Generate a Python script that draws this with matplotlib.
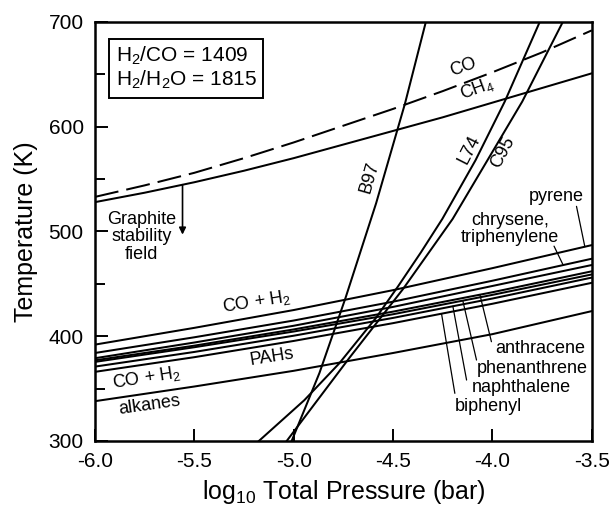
# -*- coding: UTF-8 -*-
# Graphite / PAH / alkane stability diagram (T vs log10 P)
import numpy as np
import matplotlib
matplotlib.use('Agg')
import matplotlib.pyplot as plt
from matplotlib.ticker import MultipleLocator, FormatStrFormatter

plt.rcParams['font.family'] = ['Liberation Sans', 'DejaVu Sans']
plt.rcParams['mathtext.fontset'] = 'custom'
plt.rcParams['mathtext.rm'] = 'Liberation Sans'
plt.rcParams['mathtext.default'] = 'regular'
plt.rcParams['axes.unicode_minus'] = False

# ---- data ----
# upper boundaries, T (K) at these log10 P values
P_fine = [-6.0, -5.75, -5.5, -5.25, -5.0, -4.75, -4.5, -4.25, -4.0, -3.75, -3.5]
co_ch4 = [533, 544, 556, 570, 585, 601, 617, 634, 652, 671, 692]   # dashed
graphite = [528, 537, 547, 558, 570, 583, 596, 609, 623, 637, 651]

# PAH / alkane boundaries
P_grid = [-6.0, -5.5, -5.0, -4.5, -4.0, -3.5]
pyrene = [392, 408, 425, 444, 465, 487]
chrysene = [384, 399, 415, 433, 453, 474]
triphenylene = [379, 394, 410, 428, 448, 468]
anthracene = [377, 391, 406.5, 423.5, 442, 462]
phenanthrene = [375.5, 389.5, 404.5, 421, 439.5, 459]
naphthalene = [371, 385, 400.5, 417.5, 436, 456]
biphenyl = [366, 380, 395.5, 412.5, 431, 451]
alkanes = [338, 352, 367, 384, 402, 424]

# steep curves (P, T pairs)
b97_P = [-5.01, -4.87, -4.74, -4.585, -4.44, -4.335]
b97_T = [300, 365, 436, 527, 622, 700]
l74_P = [-5.175, -4.946, -4.771, -4.588, -4.477, -4.36, -4.252, -4.085, -3.938, -3.762]
l74_T = [300, 339, 374, 417, 447, 480, 512, 568, 624, 700]
c95_P = [-5.035, -4.717, -4.45, -4.2, -3.85, -3.646]
c95_T = [300, 380, 445, 512, 624, 700]

fig = plt.figure(figsize=(6.12, 5.09), dpi=100)
ax = fig.add_axes([0.155, 0.1336, 0.812, 0.8232])

lw = 1.45
k = 'black'

# 绘制各条曲线
ax.plot(P_fine, co_ch4, color=k, lw=lw, dashes=(12, 4))
ax.plot(P_fine, graphite, color=k, lw=lw)
for curve in [pyrene, chrysene, triphenylene, anthracene,
              phenanthrene, naphthalene, biphenyl, alkanes]:
    ax.plot(P_grid, curve, color=k, lw=lw)
ax.plot(b97_P, b97_T, color=k, lw=lw)
ax.plot(l74_P, l74_T, color=k, lw=lw)
ax.plot(c95_P, c95_T, color=k, lw=lw)

ax.set_xlim(-6.0, -3.5)
ax.set_ylim(300, 700)

# 坐标轴
ax.xaxis.set_major_locator(MultipleLocator(0.5))
ax.xaxis.set_major_formatter(FormatStrFormatter('%.1f'))
ax.yaxis.set_major_locator(MultipleLocator(100))
ax.yaxis.set_minor_locator(MultipleLocator(50))
ax.tick_params(which='both', direction='in', width=1.4, labelsize=15, pad=8)
ax.tick_params(which='major', length=9)
ax.tick_params(which='minor', length=7)
for s in ax.spines.values():
    s.set_linewidth(1.8)

ax.set_xlabel('log$_{10}$ Total Pressure (bar)', fontsize=18, labelpad=5)
ax.set_ylabel('Temperature (K)', fontsize=18, labelpad=8)

# 文字标注
fs = 13
ax.text(0.042, 0.945, 'H$_2$/CO = 1409\nH$_2$/H$_2$O = 1815', transform=ax.transAxes,
        fontsize=15, va='top', ha='left', linespacing=1.1,
        bbox=dict(boxstyle='square,pad=0.3', fc='white', ec=k, lw=1.4))

ax.text(-4.149, 657, 'CO', fontsize=fs, rotation=20, ha='center', va='center')
ax.text(-4.08, 636.5, 'CH$_4$', fontsize=fs, rotation=20, ha='center', va='center')
ax.text(-4.617, 552, 'B97', fontsize=fs, rotation=74, ha='center', va='center')
ax.text(-4.114, 578, 'L74', fontsize=fs, rotation=63, ha='center', va='center')
ax.text(-3.946, 576, 'C95', fontsize=fs, rotation=62, ha='center', va='center')

ax.text(-5.765, 495, 'Graphite\nstability\nfield', fontsize=fs, ha='center',
        va='center', linespacing=1.05)
ax.annotate('', xy=(-5.559, 497), xytext=(-5.559, np.interp(-5.559, P_fine, graphite)),
            arrowprops=dict(arrowstyle='-|>', color=k, lw=1.2, mutation_scale=10,
                            shrinkA=0, shrinkB=0))

ax.text(-5.187, 433, 'CO + H$_2$', fontsize=fs, rotation=9, ha='center', va='center')
ax.text(-5.111, 380.5, 'PAHs', fontsize=fs, rotation=9, ha='center', va='center')
ax.text(-5.74, 360, 'CO + H$_2$', fontsize=fs, rotation=9, ha='center', va='center')
ax.text(-5.723, 334.5, 'alkanes', fontsize=fs, rotation=8, ha='center', va='center')

# 右上方的标签及引线
ax.text(-3.678, 533, 'pyrene', fontsize=fs, ha='center', va='center')
ax.annotate('', xy=(-3.535, np.interp(-3.535, P_grid, pyrene)), xytext=(-3.577, 524),
            arrowprops=dict(arrowstyle='-', color=k, lw=0.9, shrinkA=0, shrinkB=0))
ax.text(-3.912, 502.5, 'chrysene,\ntriphenylene', fontsize=fs, ha='center',
        va='center', linespacing=1.05)
ax.annotate('', xy=(-3.644, np.interp(-3.644, P_grid, chrysene)), xytext=(-3.69, 486),
            arrowprops=dict(arrowstyle='-', color=k, lw=0.9, shrinkA=0, shrinkB=0))

# 右下方的标签及引线
low_labels = [('anthracene', anthracene, -4.063, -4.005, 394.8, -3.988, 388.5),
              ('phenanthrene', phenanthrene, -4.149, -4.08, 377.3, -4.08, 369.4),
              ('naphthalene', naphthalene, -4.199, -4.13, 358.2, -4.105, 350.9),
              ('biphenyl', biphenyl, -4.256, -4.189, 345.5, -4.189, 332.7)]
for name, curve, p0, p1, t1, px, ty in low_labels:
    ax.annotate('', xy=(p0, np.interp(p0, P_grid, curve)), xytext=(p1, t1),
                arrowprops=dict(arrowstyle='-', color=k, lw=0.9, shrinkA=0, shrinkB=0))
    ax.text(px, ty, name, fontsize=fs, ha='left', va='center')

fig.savefig('out.png', dpi=100)
